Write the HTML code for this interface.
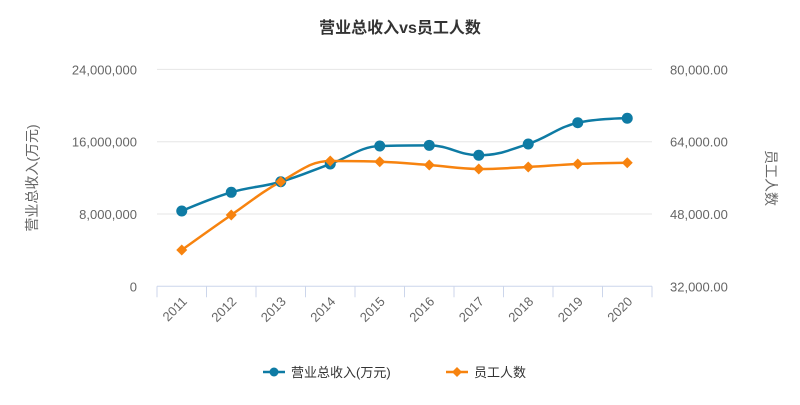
<!DOCTYPE html>
<html><head><meta charset="utf-8"><style>
body{margin:0;background:#fff;font-family:"Liberation Sans","Noto Sans CJK SC",sans-serif}
svg text{font-family:"Liberation Sans","Noto Sans CJK SC",sans-serif}
</style></head><body>
<svg id="c" width="800" height="400">
<text x="400" y="33" text-anchor="middle" font-size="16" font-weight="bold" fill="#333">营业总收入vs员工人数</text>
<text transform="translate(37,178) rotate(-90)" text-anchor="middle" font-size="14" fill="#666">营业总收入(万元)</text>
<text transform="translate(766,178) rotate(90)" text-anchor="middle" font-size="14" fill="#666">员工人数</text>
<g id="grid"></g><g id="axes"></g><g id="series"></g>
<g>
<g>
<line x1="263" y1="372" x2="285" y2="372" stroke="#0e7ba4" stroke-width="2.5"/><circle cx="274" cy="372" r="4.5" fill="#0e7ba4"/>
<text x="291" y="377" font-size="13" fill="#333">营业总收入(万元)</text></g>
<g>
<line x1="446" y1="372" x2="468" y2="372" stroke="#f7830f" stroke-width="2.5"/><path d="M457 367 L462 372 L457 377 L452 372Z" fill="#f7830f"/>
<text x="474" y="377" font-size="13" fill="#333">员工人数</text></g>
</g>
</svg>
<script>
const categories=["2011","2012","2013","2014","2015","2016","2017","2018","2019","2020"];
const revenue=[8330000,10400000,11570000,13530000,15520000,15600000,14500000,15750000,18100000,18590000];
const employees=[40030,47780,55150,59730,59570,58840,57960,58400,59070,59350];
const leftTicks=[0,8000000,16000000,24000000];
const rightTicks=[32000,48000,64000,80000];
const NS="http://www.w3.org/2000/svg";
const X0=157,X1=652,YB=286.3,YT=69.4;
const bw=(X1-X0)/categories.length;
const xs=i=>X0+bw*(i+0.5);
const yl=v=>YB-(v/24000000)*(YB-YT);
const yr=v=>YB-((v-32000)/48000)*(YB-YT);
function mk(t,a,p){const e=document.createElementNS(NS,t);for(const k in a)e.setAttribute(k,a[k]);p.appendChild(e);return e;}
const grid=document.getElementById('grid'),axes=document.getElementById('axes'),ser=document.getElementById('series');
const fmt=n=>n.toLocaleString('en-US');
leftTicks.forEach((v,i)=>{
 if(i>0){const g=mk('line',{x1:X0,x2:X1,y1:yl(v),y2:yl(v),stroke:'#e6e6e6','stroke-width':1},grid);
 
 }
 const t=mk('text',{x:137,y:yl(v)+5,'text-anchor':'end','font-size':13,fill:'#666'},axes);t.textContent=fmt(v);
 
 
});
rightTicks.forEach(v=>{
 const t=mk('text',{x:670,y:yr(v)+5,'font-size':13,fill:'#666'},axes);t.textContent=v.toLocaleString('en-US',{minimumFractionDigits:2});
 
 
});
const ax=mk('line',{x1:X0,x2:X1,y1:YB,y2:YB,stroke:'#ccd6eb','stroke-width':1},axes);


for(let i=0;i<=categories.length;i++){const x=X0+bw*i;mk('line',{x1:x,x2:x,y1:YB,y2:YB+11,stroke:'#ccd6eb'},axes);}
categories.forEach((c,i)=>{
 const t=mk('text',{transform:`translate(${xs(i)+6},${YB+16}) rotate(-45)`,'text-anchor':'end','font-size':13,fill:'#666'},axes);t.textContent=c;
 
 
});
function spline(pts){
 let d=`M${pts[0][0]} ${pts[0][1]}`;const cp=[];
 for(let i=0;i<pts.length;i++){
  const [x,y]=pts[i];
  if(i===0||i===pts.length-1){cp.push([x,y,x,y]);continue;}
  const [px,py]=pts[i-1],[nx,ny]=pts[i+1];
  let lx=(1.5*x+px)/2.5,ly=(1.5*y+py)/2.5,rx=(1.5*x+nx)/2.5,ry=(1.5*y+ny)/2.5;
  const corr=((ry-ly)*(rx-x))/(rx-lx)+y-ry;ly+=corr;ry+=corr;
  if(ly>Math.max(py,y)){ly=Math.max(py,y);ry=2*y-ly;}else if(ly<Math.min(py,y)){ly=Math.min(py,y);ry=2*y-ly;}
  if(ry>Math.max(ny,y)){ry=Math.max(ny,y);ly=2*y-ry;}else if(ry<Math.min(ny,y)){ry=Math.min(ny,y);ly=2*y-ry;}
  cp.push([lx,ly,rx,ry]);
 }
 for(let i=1;i<pts.length;i++){d+=` C${cp[i-1][2]} ${cp[i-1][3]} ${cp[i][0]} ${cp[i][1]} ${pts[i][0]} ${pts[i][1]}`;}
 return d;
}
const p1=revenue.map((v,i)=>[xs(i),yl(v)]),p2=employees.map((v,i)=>[xs(i),yr(v)]);
const l1=mk('path',{d:spline(p1),fill:'none',stroke:'#0e7ba4','stroke-width':2.5},ser);


const l2=mk('path',{d:spline(p2),fill:'none',stroke:'#f7830f','stroke-width':2.5},ser);


p1.forEach(([x,y])=>{const c=mk('circle',{cx:x,cy:y,r:5.5,fill:'#0e7ba4'},ser);
 
 });
p2.forEach(([x,y])=>{const c=mk('path',{d:`M${x} ${y-5.5}L${x+5.5} ${y}L${x} ${y+5.5}L${x-5.5} ${y}Z`,fill:'#f7830f'},ser);
 
 });
</script>
</body></html>
